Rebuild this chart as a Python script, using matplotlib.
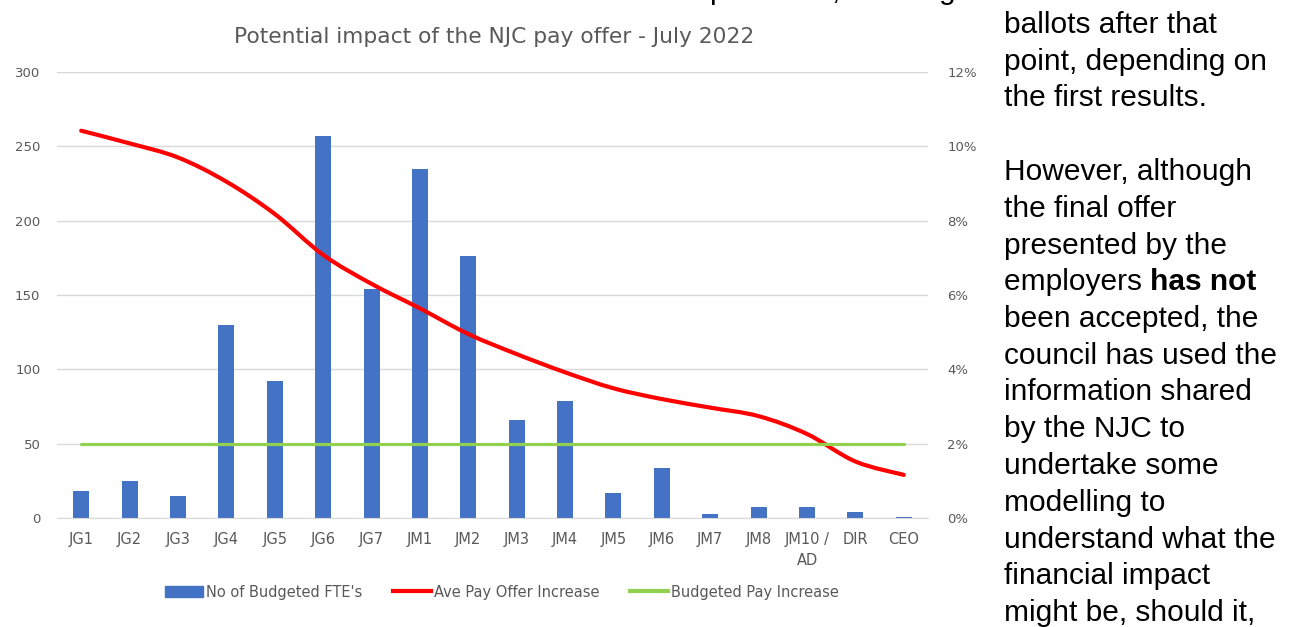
import numpy as np
import matplotlib
matplotlib.use("Agg")
import matplotlib.pyplot as plt
from matplotlib.lines import Line2D
from matplotlib.patches import Patch, PathPatch
from matplotlib.path import Path

grades = ["JG1", "JG2", "JG3", "JG4", "JG5", "JG6", "JG7", "JM1", "JM2", "JM3",
          "JM4", "JM5", "JM6", "JM7", "JM8", "JM10 /\nAD", "DIR", "CEO"]
fte = [18, 25, 15, 130, 92, 257, 154, 234.5, 176, 66,
       79, 17, 33.5, 2.5, 7.5, 7.5, 4, 1]
ave_offer = [10.42, 10.08, 9.70, 9.05, 8.18, 7.08, 6.30, 5.64, 4.95, 4.41,
             3.92, 3.49, 3.20, 2.97, 2.74, 2.26, 1.52, 1.16]
budgeted = [2.0] * len(grades)

side_lines = ["ballots after that", "point, depending on", "the first results.", "",
              "However, although", "the final offer", "presented by the",
              None, "been accepted, the", "council has used the",
              "information shared", "by the NJC to", "undertake some",
              "modelling to", "understand what the", "financial impact",
              "might be, should it,"]

grey = "#595959"
narrow = ["Liberation Sans Narrow", "DejaVu Sans"]


def smooth_path(xs, ys):
    # Excel-style smoothed line: bezier segments through the data points
    p = np.column_stack([xs, ys]).astype(float)
    verts = [p[0]]
    codes = [Path.MOVETO]
    n = len(p)
    for i in range(n - 1):
        p0 = p[max(i - 1, 0)]
        p3 = p[min(i + 2, n - 1)]
        c1 = p[i] + (p[i + 1] - p0) / 6
        c2 = p[i + 1] - (p3 - p[i]) / 6
        verts += [c1, c2, p[i + 1]]
        codes += [Path.CURVE4] * 3
    return Path(verts, codes)


W, H = 1299, 627
fig = plt.figure(figsize=(W / 100, H / 100), dpi=100)
ax = fig.add_axes([57 / W, 1 - 518 / H, (928 - 57) / W, (518 - 72) / H])
ax2 = ax.twinx()

x = np.arange(len(grades))
ax.bar(x, fte, width=0.33, color="#4472c4", zorder=2)
ax2.add_patch(PathPatch(smooth_path(x, ave_offer), facecolor="none", edgecolor="#ff0000",
                        lw=3.0, capstyle="round"))
ax2.plot(x, budgeted, color="#92d050", lw=2.3, solid_capstyle="round")

ax.set_xlim(-0.5, len(grades) - 0.5)
ax.set_ylim(0, 300)
ax.set_yticks(range(0, 301, 50))
ax2.set_ylim(0, 12)
ax2.set_yticks(range(0, 13, 2))
ax2.set_yticklabels([f"{v}%" for v in range(0, 13, 2)])
ax.grid(axis="y", color="#d9d9d9", lw=1, zorder=0)
ax.set_axisbelow(True)
for a in (ax, ax2):
    for s in a.spines.values():
        s.set_visible(False)
    a.tick_params(length=0, colors=grey, labelsize=9.5)
ax.spines["bottom"].set_visible(True)
ax.spines["bottom"].set_color("#d9d9d9")
ax.tick_params(axis="y", pad=12)
ax2.tick_params(axis="y", pad=14)
ax.set_xticks(x)
ax.set_xticklabels(grades, fontfamily=narrow, fontsize=10.5, va="top", linespacing=1.5)
ax.tick_params(axis="x", pad=10)

fig.text(494 / W, 1 - 37 / H, "Potential impact of the NJC pay offer - July 2022",
         ha="center", va="center", color=grey, fontsize=15.7, family=narrow)

handles = [Patch(color="#4472c4"), Line2D([0], [0], color="#ff0000", lw=3),
           Line2D([0], [0], color="#92d050", lw=3)]
fig.legend(handles, ["No of Budgeted FTE's", "Ave Pay Offer Increase", "Budgeted Pay Increase"],
           loc="center", bbox_to_anchor=(502 / W, 1 - 592 / H), ncol=3, frameon=False,
           prop={"family": narrow, "size": 10.5}, labelcolor=grey, handlelength=2.6,
           handleheight=0.8, handletextpad=0.2, columnspacing=2.1)

# neighbouring document text
sans = ["Liberation Sans", "DejaVu Sans"]
fs = 21.5
for i, line in enumerate(side_lines):
    yy = 1 - (25 + i * 36.75) / H
    if line is None:
        t = fig.text(1004 / W, yy, "employers ", ha="left", va="center",
                     fontsize=fs, family=sans)
        fig.canvas.draw()
        bb = t.get_window_extent()
        fig.text(bb.x1 / W, yy, "has not", ha="left", va="center",
                 fontsize=fs, family=sans, fontweight="bold")
    elif line:
        fig.text(1004 / W, yy, line, ha="left", va="center", fontsize=fs, family=sans)
# bottom edge of the line above, cut off by the page crop
for cx, ch in [(717, "p"), (835, ","), (947, "g")]:
    fig.text(cx / W, 1 + 1 / H, ch, ha="center", va="baseline", fontsize=fs, family=sans)

fig.savefig("out.png", dpi=100)
